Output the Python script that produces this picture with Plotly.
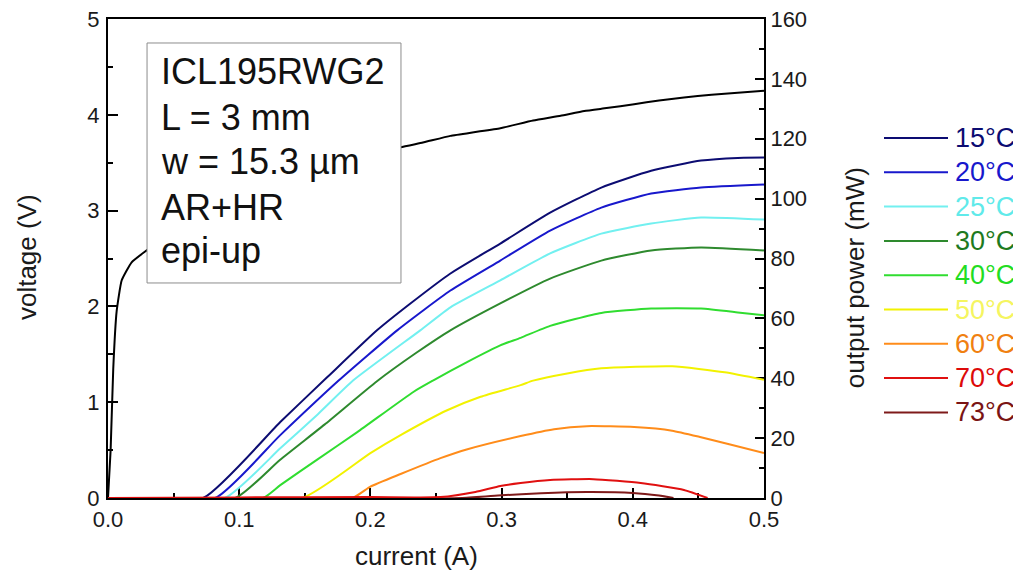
import plotly.graph_objects as go

# ---------------- data ----------------
v_current = [0, 0.002, 0.004, 0.0066, 0.0104, 0.018, 0.028, 0.05, 0.08, 0.12, 0.16, 0.2,
             0.223, 0.24, 0.261, 0.28, 0.299, 0.324, 0.345, 0.363, 0.38, 0.401, 0.42,
             0.439, 0.46, 0.48, 0.5]
v_voltage = [0, 0.5, 1.35, 1.95, 2.27, 2.46, 2.57, 2.78, 3.0, 3.22, 3.4, 3.56,
             3.66, 3.71, 3.78, 3.82, 3.86, 3.94, 3.99, 4.04, 4.07, 4.11, 4.15,
             4.18, 4.21, 4.23, 4.25]

temps = ["15°C", "20°C", "25°C", "30°C", "40°C", "50°C", "60°C", "70°C", "73°C"]
line_colors = ["#0c0c72", "#1818cc", "#72f0f0", "#2e8a2e", "#30dd30",
               "#f2f200", "#ff8c1a", "#e01010", "#7e1a1a"]
text_colors = ["#0c0c72", "#1818cc", "#60eaea", "#1e7a1e", "#22dd22",
               "#f5f560", "#f08010", "#dd0a0a", "#7a1414"]

i15 = [0, 0.0725, 0.1313, 0.167, 0.205, 0.23, 0.261, 0.299, 0.337, 0.376, 0.414, 0.452, 0.48, 0.5]
p15 = [0, 0, 25.4, 40.3, 56, 64.8, 75, 85, 95.3, 103.7, 109.3, 112.7, 113.6, 113.7]

i20 = [0, 0.0817, 0.1313, 0.176, 0.2204, 0.261, 0.299, 0.337, 0.376, 0.414, 0.452, 0.5]
p20 = [0, 0, 21, 39.3, 56, 69.3, 79.3, 89.3, 97, 101.7, 103.7, 104.7]

i25 = [0, 0.089, 0.1313, 0.16, 0.187, 0.238, 0.261, 0.299, 0.337, 0.376, 0.414, 0.452, 0.5]
p25 = [0, 0, 16.6, 28, 39.3, 56, 63.7, 72.7, 81.7, 88.3, 91.7, 93.7, 93]

i30 = [0, 0.097, 0.131, 0.165, 0.205, 0.235, 0.261, 0.299, 0.337, 0.376, 0.414, 0.452, 0.5]
p30 = [0, 0, 12.7, 24.5, 39, 48.5, 56, 65, 73.3, 79.3, 82.7, 83.7, 82.7]

i40 = [0, 0.118, 0.1313, 0.16, 0.19, 0.233, 0.248, 0.274, 0.299, 0.3145, 0.337, 0.376, 0.414, 0.452, 0.48, 0.5]
p40 = [0, 0, 4.3, 13, 22, 35.5, 39.3, 45.5, 51, 53.5, 57.5, 61.8, 63.3, 63.3, 62, 61]

i50 = [0, 0.148, 0.2, 0.223, 0.2585, 0.284, 0.3145, 0.324, 0.35, 0.376, 0.43, 0.47, 0.5]
p50 = [0, 0, 15, 21, 29.3, 33.8, 37.7, 39.2, 41.6, 43.3, 44, 42, 39.5]

i60 = [0, 0.186, 0.2, 0.223, 0.2534, 0.274, 0.3145, 0.34, 0.365, 0.401, 0.43, 0.452, 0.475, 0.5]
p60 = [0, 0, 3.8, 8, 13.3, 16.3, 20.7, 23, 24, 23.7, 22.5, 20.3, 17.8, 15]

i73 = [0, 0.27, 0.3, 0.33, 0.365, 0.4, 0.42, 0.431]
p73 = [0, 0, 0.9, 1.6, 2.0, 1.7, 0.8, 0]

i70 = [0, 0.1, 0.2, 0.2535, 0.28, 0.299, 0.3145, 0.337, 0.37, 0.406, 0.439, 0.457]
p70 = [0, 0.2, 0.3, 0.3, 2, 4, 5, 6, 6.3, 5, 2.7, 0]

power_x = [i15, i20, i25, i30, i40, i50, i60, i70, i73]
power_y = [p15, p20, p25, p30, p40, p50, p60, p70, p73]

box_lines = ["ICL195RWG2", "L = 3 mm", "w = 15.3 µm", "AR+HR", "epi-up"]

# ---------------- figure ----------------
fig = go.Figure()

fig.add_trace(go.Scatter(x=v_current, y=v_voltage, mode="lines",
                         line=dict(color="#000000", width=2, shape="spline", smoothing=0.4),
                         yaxis="y", showlegend=False, name="voltage"))

draw_order = [0, 1, 2, 3, 4, 5, 6, 8, 7]
for k in draw_order:
    fig.add_trace(go.Scatter(x=power_x[k], y=power_y[k], mode="lines",
                             line=dict(color=line_colors[k], width=2, shape="spline", smoothing=0.5),
                             yaxis="y2", showlegend=False, name=temps[k]))

font_family = "Liberation Sans, Arial, sans-serif"
tick_font = dict(family=font_family, size=22, color="#1a1a1a")

# page body has an 8px margin, so the figure is 8px smaller than the window
fig.update_layout(
    width=1013, height=567,
    margin=dict(l=100, r=257, t=11, b=77),
    paper_bgcolor="white", plot_bgcolor="white",
    xaxis=dict(range=[0, 0.5], tickvals=[0, 0.1, 0.2, 0.3, 0.4, 0.5], tickformat=".1f",
               ticks="inside", ticklen=10, tickwidth=1.5, tickcolor="black",
               minor=dict(dtick=0.05, ticks="inside", ticklen=5, tickwidth=1.5, tickcolor="black"),
               showline=True, linewidth=2, linecolor="black", mirror=True,
               showgrid=False, zeroline=False, tickfont=tick_font, automargin=False,
               ticklabeloverflow="allow",
               layer="below traces", ticklabelstandoff=1),
    yaxis=dict(range=[0, 5], dtick=1, ticks="inside", ticklen=10, tickwidth=1.5, tickcolor="black",
               minor=dict(dtick=0.5, ticks="inside", ticklen=5, tickwidth=1.5, tickcolor="black"),
               showline=True, linewidth=2, linecolor="black",
               showgrid=False, zeroline=False, tickfont=tick_font, automargin=False,
               ticklabeloverflow="allow",
               layer="below traces", ticklabelstandoff=2),
    yaxis2=dict(range=[0, 160], dtick=20, overlaying="y", side="right",
                ticks="inside", ticklen=9, tickwidth=1.5, tickcolor="black",
                minor=dict(dtick=10, ticks="inside", ticklen=5, tickwidth=1.5, tickcolor="black"),
                showline=True, linewidth=2, linecolor="black",
                showgrid=False, zeroline=False, tickfont=tick_font, automargin=False,
                ticklabeloverflow="allow",
                layer="below traces", ticklabelstandoff=0),
)

# text box
fig.add_shape(type="rect", xref="paper", yref="paper",
              x0=0.0595, x1=0.4466, y0=0.4489, y1=0.9499,
              line=dict(color="#8c8c8c", width=1), fillcolor="white", layer="above")
box_y = [0.8904, 0.7954, 0.7025, 0.6075, 0.5157]
for txt, yy in zip(box_lines, box_y):
    fig.add_annotation(text=txt, xref="paper", yref="paper", x=0.078, y=yy,
                       xanchor="left", yanchor="middle", showarrow=False,
                       font=dict(family=font_family, size=36, color="#111111"))

# axis titles
title_font = dict(family=font_family, size=26, color="#1a1a1a")
fig.add_annotation(text="current (A)", xref="paper", yref="paper", x=0.471, y=-0.121,
                   xanchor="center", yanchor="middle", showarrow=False, font=title_font)
fig.add_annotation(text="voltage (V)", xref="paper", yref="paper", x=-0.1235, y=0.503,
                   xanchor="center", yanchor="middle", showarrow=False, font=title_font,
                   textangle=-90)
fig.add_annotation(text="output power (mW)", xref="paper", yref="paper", x=1.1387, y=0.461,
                   xanchor="center", yanchor="middle", showarrow=False, font=title_font,
                   textangle=-90)

# custom legend
for k, t in enumerate(temps):
    py = 138 + 34.3 * k
    yy = (498 - py) / 479
    fig.add_shape(type="line", xref="paper", yref="paper",
                  x0=(884 - 108) / 656, x1=(948 - 108) / 656, y0=yy, y1=yy,
                  line=dict(color=line_colors[k], width=2))
    fig.add_annotation(text=t, xref="paper", yref="paper", x=(953 - 108) / 656, y=yy,
                       xanchor="left", yanchor="middle", showarrow=False,
                       font=dict(family=font_family, size=27, color=text_colors[k]))

fig.write_html("out.html")
